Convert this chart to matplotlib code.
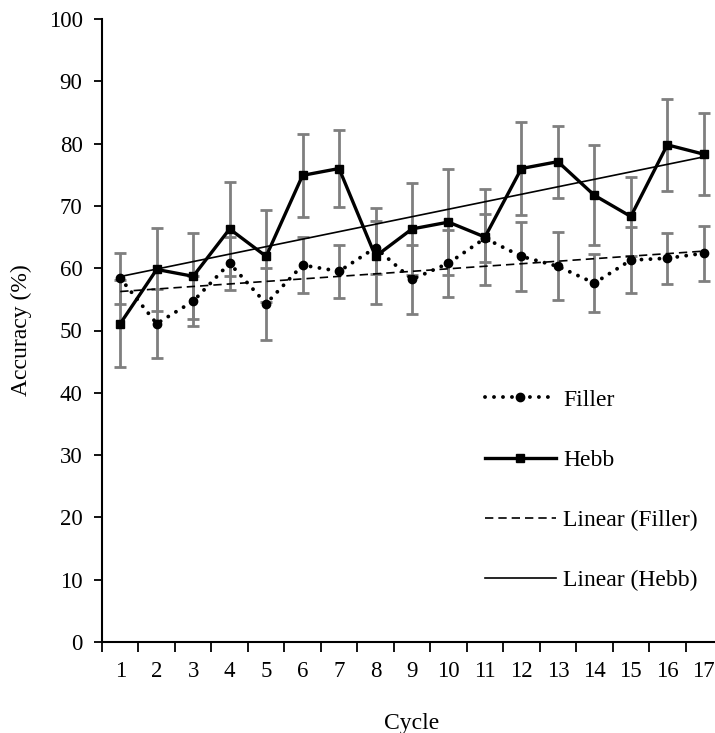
import numpy as np
import matplotlib
matplotlib.use("Agg")
import matplotlib.pyplot as plt

cycles = list(range(1, 18))
filler = [58.4, 51.1, 54.7, 60.8, 54.3, 60.5, 59.5, 63.3, 58.2, 60.8, 64.8, 61.9, 60.3, 57.6, 61.3, 61.6, 62.4]
filler_err = [4.1, 5.5, 4.0, 4.25, 5.75, 4.45, 4.25, 4.2, 5.5, 5.4, 3.85, 5.5, 5.45, 4.65, 5.25, 4.1, 4.4]
hebb = [51.1, 59.8, 58.7, 66.3, 61.9, 74.9, 76.0, 61.9, 66.3, 67.4, 65.0, 76.0, 77.1, 71.7, 68.3, 79.8, 78.3]
hebb_err = [7.0, 6.7, 6.9, 7.6, 7.4, 6.65, 6.15, 7.7, 7.4, 8.5, 7.7, 7.4, 5.8, 8.05, 6.4, 7.35, 6.55]

plt.rcParams['font.family'] = ['Liberation Serif', 'DejaVu Serif']
plt.rcParams['font.size'] = 17

fig = plt.figure(figsize=(7.15, 7.33), dpi=100)
ax = fig.add_axes([102 / 715, 91 / 733, 620 / 715, 623 / 733])

x = np.array(cycles)
grey = "#7f7f7f"
ax.errorbar(x, filler, yerr=filler_err, fmt="none", ecolor=grey, elinewidth=2,
            capsize=4, capthick=2, zorder=1)
ax.errorbar(x, hebb, yerr=hebb_err, fmt="none", ecolor=grey, elinewidth=2,
            capsize=4, capthick=2, zorder=1)

ax.plot(x, filler, linestyle=(0, (0.01, 2.3)), color="black", lw=2.8, marker="o",
        markersize=6, dash_capstyle="round", label="Filler", zorder=3)
ax.plot(x, hebb, linestyle="-", color="black", lw=2.4, marker="s",
        markersize=6, label="Hebb", zorder=4)

# linear trend lines
pf = np.polyfit(x, filler, 1)
ph = np.polyfit(x, hebb, 1)
ax.plot(x, np.polyval(pf, x), linestyle=(0, (5, 3)), color="black", lw=1.2,
        label="Linear (Filler)", zorder=2)
ax.plot(x, np.polyval(ph, x), linestyle="-", color="black", lw=1.2,
        label="Linear (Hebb)", zorder=2)

ax.set_xlim(0.5, 17.5)
ax.set_ylim(0, 100)
ax.set_yticks(range(0, 101, 10))
ax.set_xticks(x)
ax.set_xticklabels([str(c) for c in cycles])
ax.set_xticks(np.arange(0.5, 18, 1), minor=True)
ax.tick_params(axis="x", which="major", length=0, pad=14, labelsize=16.5)
ax.tick_params(axis="x", which="minor", length=7, width=1.3, direction="out")
ax.tick_params(axis="y", length=6, width=1.3, direction="out", pad=8, labelsize=16.5)

for side in ["top", "right"]:
    ax.spines[side].set_visible(False)
for side in ["left", "bottom"]:
    ax.spines[side].set_linewidth(1.5)

ax.set_xlabel("Cycle", labelpad=22)
ax.set_ylabel("Accuracy (%)", labelpad=12)

ax.legend(loc="upper left", bbox_to_anchor=(485 / 715, 1 - 389 / 733),
          bbox_transform=fig.transFigure, frameon=False, borderpad=0,
          borderaxespad=0, handlelength=3.0, handletextpad=0.3,
          labelspacing=1.64, numpoints=1)

fig.savefig("out.png", dpi=100)
